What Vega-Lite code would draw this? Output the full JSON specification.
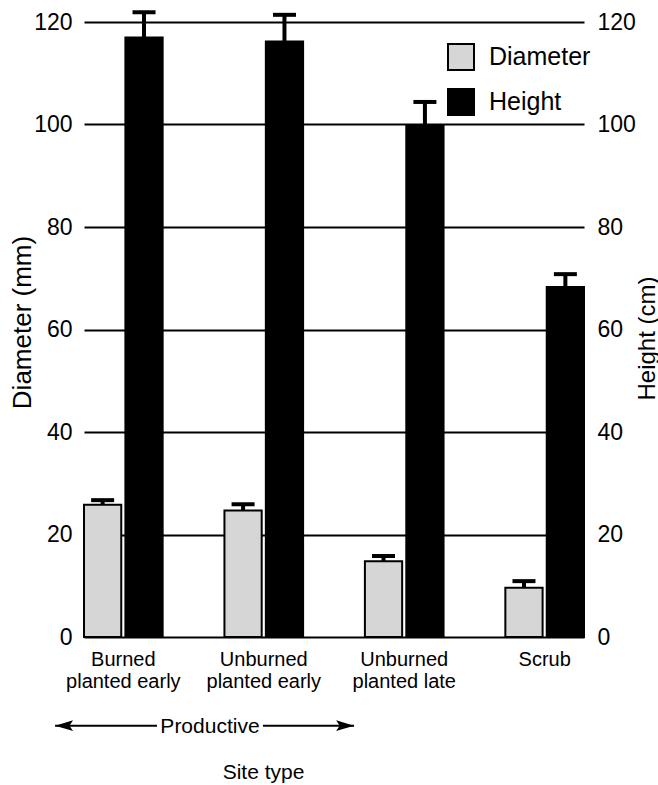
{
  "$schema": "https://vega.github.io/schema/vega-lite/v6.json",
  "autosize": {"type": "none"},
  "width": 500,
  "height": 615,
  "padding": {"left": 84, "top": 22, "right": 74, "bottom": 148},
  "background": "white",
  "config": {
    "font": "Liberation Sans",
    "view": {"stroke": null},
    "axis": {"labelColor": "black", "titleColor": "black", "titleFontWeight": "normal", "labelFont": "Liberation Sans", "titleFont": "Liberation Sans"},
    "legend": {"labelFont": "Liberation Sans", "labelColor": "black"},
    "text": {"font": "Liberation Sans"}
  },
  "layer": [
    {
      "data": {
        "values": [
          {"site": "Burned planted early", "var": "Diameter", "value": 25.8, "upper": 26.7},
          {"site": "Burned planted early", "var": "Height", "value": 117.0, "upper": 121.9},
          {"site": "Unburned planted early", "var": "Diameter", "value": 24.7, "upper": 25.9},
          {"site": "Unburned planted early", "var": "Height", "value": 116.2, "upper": 121.4},
          {"site": "Unburned planted late", "var": "Diameter", "value": 14.8, "upper": 15.8},
          {"site": "Unburned planted late", "var": "Height", "value": 99.8, "upper": 104.4},
          {"site": "Scrub", "var": "Diameter", "value": 9.6, "upper": 10.9},
          {"site": "Scrub", "var": "Height", "value": 68.3, "upper": 70.8}
        ]
      },
      "encoding": {
        "x": {
          "field": "site", "type": "nominal",
          "sort": ["Burned planted early", "Unburned planted early", "Unburned planted late", "Scrub"],
          "scale": {"paddingInner": 0.44, "paddingOuter": 0},
          "axis": {
            "title": "Site type", "titleFontSize": 21, "titleX": 179, "titleY": 141, "titleBaseline": "alphabetic", "titleAlign": "center",
            "labelAngle": 0, "labelFontSize": 20, "labelLineHeight": 22, "labelPadding": 12,
            "ticks": false, "domain": false, "grid": false,
            "labelExpr": "indexof(datum.label, ' ') > 0 ? [substring(datum.label, 0, indexof(datum.label, ' ')), substring(datum.label, indexof(datum.label, ' ') + 1)] : datum.label"
          }
        },
        "xOffset": {"field": "var", "type": "nominal", "sort": ["Diameter", "Height"], "scale": {"paddingInner": 0.1, "paddingOuter": 0}}
      },
      "layer": [
        {
          "mark": {"type": "bar", "stroke": "black", "strokeWidth": 2},
          "encoding": {
            "y": {
              "field": "value", "type": "quantitative",
              "scale": {"domain": [0, 120], "nice": false},
              "axis": {
                "orient": "left", "title": "Diameter (mm)", "titleFontSize": 26, "titleX": -62, "titleY": 300, "titleBaseline": "middle", "titleAngle": 270,
                "values": [0, 20, 40, 60, 80, 100, 120], "labelFontSize": 23, "labelPadding": 12,
                "ticks": false, "domain": false, "grid": true, "gridColor": "black", "gridWidth": 2, "gridOpacity": 1
              }
            },
            "color": {
              "field": "var", "type": "nominal",
              "scale": {"domain": ["Diameter", "Height"], "range": ["#d6d6d6", "#000000"]},
              "legend": {
                "title": null, "orient": "none", "legendX": 363, "legendY": 21, "padding": 0,
                "symbolType": "square", "symbolSize": 676, "symbolStrokeColor": "black", "symbolStrokeWidth": 2, "symbolOpacity": 1,
                "labelFontSize": 25, "labelOffset": 14, "rowPadding": 11
              }
            }
          }
        },
        {
          "mark": {"type": "rule", "color": "black", "strokeWidth": 4},
          "encoding": {
            "y": {
              "field": "value", "type": "quantitative",
              "scale": {"domain": [0, 120], "nice": false},
              "axis": {
                "orient": "right", "title": "Height (cm)", "titleFontSize": 24, "titleX": 63, "titleY": 316, "titleBaseline": "middle", "titleAngle": 270,
                "values": [0, 20, 40, 60, 80, 100, 120], "labelFontSize": 23, "labelPadding": 13,
                "ticks": false, "domain": false, "grid": false
              }
            },
            "y2": {"field": "upper"}
          }
        },
        {
          "mark": {"type": "tick", "color": "black", "size": 23, "thickness": 4, "opacity": 1},
          "encoding": {
            "y": {"field": "upper", "type": "quantitative", "scale": {"domain": [0, 120], "nice": false}, "axis": null}
          }
        }
      ],
      "resolve": {"axis": {"y": "independent"}}
    },
    {
      "layer": [
        {
          "data": {"values": [{"x": -0.486, "x2": 0.24, "y": -17.3}, {"x": 0.994, "x2": 1.643, "y": -17.3}]},
          "mark": {"type": "rule", "color": "black", "strokeWidth": 2},
          "encoding": {
            "x": {"field": "x", "type": "quantitative", "scale": {"domain": [-0.28, 3.28], "nice": false, "zero": false}, "axis": null},
            "x2": {"field": "x2"},
            "y": {"field": "y", "type": "quantitative", "scale": {"domain": [0, 120], "nice": false}, "axis": null}
          }
        },
        {
          "data": {"values": [{"x": -0.486, "y": -17.3, "dir": "left"}, {"x": 1.643, "y": -17.3, "dir": "right"}]},
          "mark": {"type": "point", "filled": true, "color": "black", "opacity": 1, "size": 324},
          "encoding": {
            "x": {"field": "x", "type": "quantitative", "scale": {"domain": [-0.28, 3.28], "nice": false, "zero": false}, "axis": null},
            "y": {"field": "y", "type": "quantitative", "scale": {"domain": [0, 120], "nice": false}, "axis": null},
            "shape": {
              "field": "dir", "type": "nominal",
              "scale": {"domain": ["left", "right"], "range": ["M 0 0 L 2 -0.6 L 1.6 0 L 2 0.6 Z", "M 0 0 L -2 -0.6 L -1.6 0 L -2 0.6 Z"]},
              "legend": null
            }
          }
        },
        {
          "data": {"values": [{"x": 0.617, "y": -18.8, "label": "Productive"}]},
          "mark": {"type": "text", "fontSize": 21, "align": "center", "baseline": "alphabetic", "color": "black"},
          "encoding": {
            "x": {"field": "x", "type": "quantitative", "scale": {"domain": [-0.28, 3.28], "nice": false, "zero": false}, "axis": null},
            "y": {"field": "y", "type": "quantitative", "scale": {"domain": [0, 120], "nice": false}, "axis": null},
            "text": {"field": "label"}
          }
        }
      ]
    }
  ],
  "resolve": {"scale": {"x": "independent"}, "axis": {"x": "independent", "y": "independent"}}
}
